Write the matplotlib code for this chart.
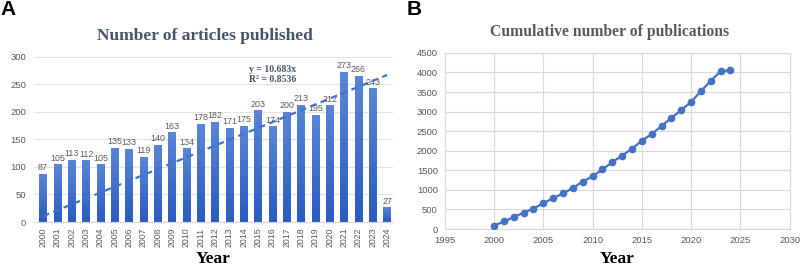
import matplotlib
matplotlib.use("Agg")
import matplotlib.pyplot as plt
import numpy as np
from matplotlib.colors import LinearSegmentedColormap

years = [str(y) for y in range(2000, 2025)]
articles = [87, 105, 113, 112, 105, 135, 133, 119, 140, 163, 134, 178, 182,
            171, 175, 203, 174, 200, 213, 195, 212, 273, 266, 243, 27]
trend_slope = 10.683
trend_r2 = 0.8536
cum_years = list(range(2000, 2025))
cumulative = [87, 192, 305, 417, 522, 657, 790, 909, 1049, 1212, 1346, 1524,
              1706, 1877, 2052, 2255, 2429, 2629, 2842, 3037, 3249, 3522,
              3788, 4031, 4058]

SANS = "Liberation Sans"
SERIF = "Liberation Serif"
TICKC = "#595959"
BLUE = "#4472C4"

fig = plt.figure(figsize=(8, 2.68), dpi=100)

# ---------- Panel A ----------
axA = fig.add_axes([0.043, 0.1716, 0.448, 0.616])
x = np.arange(len(years))
bars = axA.bar(x, articles, width=0.5, color="none", edgecolor="none", zorder=2)
cmap = LinearSegmentedColormap.from_list("g", ["#2a5bbf", "#5a86d6"])
grad = np.linspace(0, 1, 100).reshape(-1, 1)
for b in bars:
    bx, by = b.get_x(), b.get_y()
    w, h = b.get_width(), b.get_height()
    im = axA.imshow(grad, cmap=cmap, origin="lower", aspect="auto",
                    extent=[bx, bx + w, by, by + h], zorder=2)
    im.set_clip_path(b)
for xi, v in zip(x, articles):
    axA.text(xi, v + 3, str(v), ha="center", va="bottom", fontsize=6.4,
             color=TICKC, family=SANS, zorder=3)
axA.plot(x, trend_slope * (x + 1), linestyle=(0, (3, 2)), color=BLUE, lw=1.6, zorder=4)
axA.set_xlim(-0.6, 24.4)
axA.set_ylim(0, 300)
axA.set_yticks(range(0, 301, 50))
axA.set_xticks(x)
axA.set_xticklabels(years, rotation=90)
axA.tick_params(axis="y", length=0, labelsize=6.8, labelcolor=TICKC, pad=6)
axA.tick_params(axis="x", length=0, labelsize=6.3, labelcolor=TICKC, pad=4)
for lab in axA.get_xticklabels() + axA.get_yticklabels():
    lab.set_family(SANS)
axA.grid(axis="y", color="#e3e3e3", lw=0.8, zorder=0)
axA.set_axisbelow(True)
for s in ["top", "right", "left"]:
    axA.spines[s].set_visible(False)
axA.spines["bottom"].set_color("#d9d9d9")
axA.set_title("Number of articles published", fontsize=12.5, fontweight="bold",
              family=SERIF, color="#44546A", pad=12, x=0.476)
axA.set_xlabel("Year", fontsize=12.5, fontweight="bold", family=SERIF, labelpad=2.5)
axA.text(0.6, 0.95, f"y = {trend_slope}x\nR\u00b2 = {trend_r2}", transform=axA.transAxes,
         fontsize=7, fontweight="bold", family=SERIF, color="#44546A",
         va="top", ha="left", linespacing=1.1)
fig.text(0.0, 1.0, "A", fontsize=15, fontweight="bold", family=SANS, va="top", ha="left")

# ---------- Panel B ----------
axB = fig.add_axes([0.556, 0.1455, 0.431, 0.657])
axB.plot(cum_years, cumulative, color=BLUE, lw=1.6, marker="o", markersize=4.5,
         zorder=3)
axB.set_xlim(1995, 2030)
axB.set_ylim(0, 4500)
axB.set_xticks(range(1995, 2031, 5))
axB.set_yticks(range(0, 4501, 500))
axB.tick_params(length=0, labelsize=6.8, labelcolor=TICKC, pad=5)
for lab in axB.get_xticklabels() + axB.get_yticklabels():
    lab.set_family(SANS)
axB.grid(True, color="#d9d9d9", lw=0.8, zorder=0)
axB.set_axisbelow(True)
for s in axB.spines.values():
    s.set_color("#d9d9d9")
    s.set_linewidth(0.8)
axB.set_title("Cumulative number of publications", fontsize=11.3, fontweight="bold",
              family=SERIF, color="#595959", pad=12, x=0.478)
axB.set_xlabel("Year", fontsize=12.5, fontweight="bold", family=SERIF, labelpad=4)
fig.text(0.508, 1.0, "B", fontsize=15, fontweight="bold", family=SANS, va="top", ha="left")

fig.savefig("out.png", dpi=100)
